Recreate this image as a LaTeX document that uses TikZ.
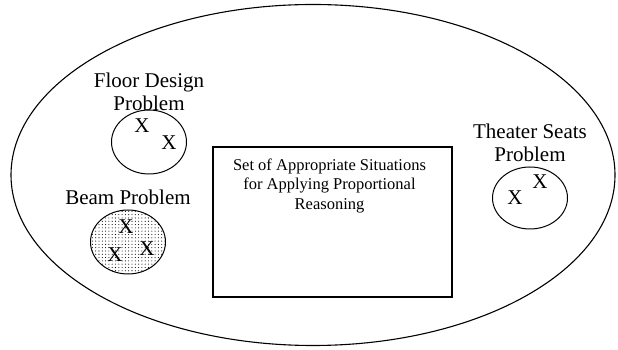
\documentclass[tikz,border=0pt]{standalone}
\usepackage{fontspec}
\setmainfont{Liberation Serif}
\usepackage{tikz}
\usetikzlibrary{shapes,positioning,patterns}

\pgfdeclarepatternformonly{sparsedots}{\pgfqpoint{-1pt}{-1pt}}{\pgfqpoint{1pt}{1pt}}{\pgfqpoint{3.3pt}{3.3pt}}%
{
  \pgfpathcircle{\pgfqpoint{0pt}{0pt}}{0.55pt}
  \pgfusepath{fill}
}

\tikzset{
  problem/.style={ellipse, draw, line width=1pt, minimum width=75pt, minimum height=64pt, inner sep=0pt},
  tag/.style={align=center, inner sep=0pt, font=\fontsize{21}{23}\selectfont},
  xmark/.style={inner sep=0pt, font=\fontsize{21}{23}\selectfont},
  boxtext/.style={align=center, inner sep=0pt, font=\fontsize{16.5}{19.5}\selectfont}
}

\begin{document}
\begin{tikzpicture}[x=1pt, y=1pt]
  \useasboundingbox (0,0) rectangle (618,350);

  \node[ellipse, draw, line width=1.1pt, minimum width=604pt, minimum height=341pt, inner sep=0pt] (world) at (313,175) {}; %
  \node[draw, line width=1.3pt, minimum width=239pt, minimum height=150pt, inner sep=0pt] (set) at (332.5,128) {};
  \node[boxtext, below=12pt of set.north, xshift=-3pt] (settext) {Set of Appropriate Situations\\for Applying Proportional\\Reasoning};

  \node[problem] (floor) at (149,208) {}; %
  \node[problem, preaction={fill=white}, pattern=sparsedots] (beam) at (128,108) {};
  \node[problem, minimum height=62pt] (theater) at (530,152) {};

  \node[tag, above=-1pt of floor] (floorlbl) {Floor Design\\Problem};
  \node[tag, above=5pt of beam] (beamlbl) {Beam Problem};
  \node[tag, above=5pt of theater] (theaterlbl) {Theater Seats\\Problem};

  % the X marks inside each problem
  \node[xmark] (f1) at ([shift={(-7pt,16pt)}]floor.center) {X};
  \node[xmark] (f2) at ([shift={(20pt,-1pt)}]floor.center) {X};

  \node[xmark] (b1) at ([shift={(-2pt,15pt)}]beam.center) {X};
  \node[xmark] (b2) at ([shift={(-13pt,-13pt)}]beam.center) {X};
  \node[xmark] (b3) at ([shift={(19pt,-7pt)}]beam.center) {X};

  \node[xmark] (t1) at ([shift={(10pt,16pt)}]theater.center) {X};
  \node[xmark] (t2) at ([shift={(-15pt,0pt)}]theater.center) {X};
\end{tikzpicture}
\end{document}
